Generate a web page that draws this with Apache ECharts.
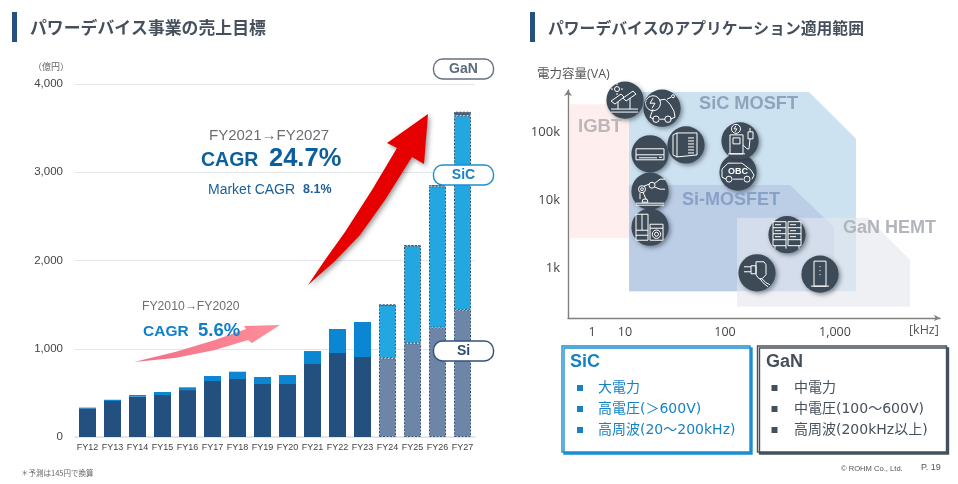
<!DOCTYPE html>
<html><head><meta charset="utf-8">
<style>html,body{margin:0;padding:0;background:#fff}#c{width:958px;height:484px}</style>
<script src="https://cdn.jsdelivr.net/npm/echarts@6/dist/echarts.min.js"></script>
</head><body><div id="c"></div>
<script>
const categories=['FY12','FY13','FY14','FY15','FY16','FY17','FY18','FY19','FY20','FY21','FY22','FY23','FY24','FY25','FY26','FY27'];
const siValues=[325,408,457,476,532,634,657,600,600,827,952,906,892,1062,1239,1440];
const sicValues=[8,14,19,34,31,57,83,80,102,147,272,397,604,1106,1601,2201];
const ganValues=[0,0,0,0,0,0,0,0,0,0,0,0,0,0,15,45];
const firstForecastIndex=12;
const yTickValues=[0,1000,2000,3000,4000];

// Right panel: x is a slide scale (one unit per kHz decade between 10 and 100), y is log10(VA)
const freqTickPositions=[0.67,1,2,3.1];
const freqTickLabels=['1','10','100','1,000'];
const vaTickPositions=[3,4,5];
const vaTickLabels=['1k','10k','100k'];
const regionNames=['IGBT','SiC MOSFT','Si-MOSFET','GaN HEMT'];
const regionFill=['#feefee','#cde2f1','#bccde6','rgba(228,231,237,0.62)'];
const regionIGBT=[[0.45,5.41],[1.04,5.41],[1.04,3.44],[0.45,3.44]];
const regionSiC=[[1.04,5.59],[2.84,5.59],[3.31,4.9],[3.31,2.66],[1.04,2.66]];
const regionSi=[[1.04,4.22],[2.65,4.22],[3.09,3.6],[3.09,2.66],[1.04,2.66]];
const regionGaN=[[2.12,3.74],[3.43,3.74],[3.85,3.12],[3.85,2.43],[2.12,2.43]];
const regions=[regionIGBT,regionSiC,regionSi,regionGaN];
const appNames=['OBC','EV','Inverter','AC','Solar','Robot','Appliance','Charger','Server','Adapter','Station'];
const appX=[2.13,1.37,1.61,1.25,1,1.25,1.25,2.15,2.62,2.32,2.95];
const appY=[4.41,5.35,4.81,4.68,5.47,4.13,3.6,4.87,3.49,2.93,2.91];

const JP='"Liberation Sans","Noto Sans CJK JP",sans-serif';
const JPR='"Noto Sans CJK JP",sans-serif';
const MEI='"DejaVu Sans","Noto Sans CJK JP",sans-serif';
const OS='"Open Sans","Noto Sans CJK JP",sans-serif';

// white line glyphs: p polyline, g closed polygon, c circle, r rectangle, relative to the circle centre
const glyphs={
 Solar:[['c',-8,-11,2.5],['p',-8,-17,-8,-15],['p',-8,-7,-8,-5],['p',-14,-11,-12,-11],['p',-4,-11,-2,-11],
  ['g',-14,1,-4,-6,-1,-3,-10,4],['g',-2,-2,8,-9,11,-6,1,1],['p',-7,2,-7,9],['p',5,-2,5,9],['p',-14,9,13,9],['p',-14,12,13,12]],
 EV:[['c',-9,-5,7.5],['p',-9,-10,-12,-5,-7,-5,-10,0],['p',-3,-8,3,-9,8,-4,12,3,13,9,8,11],['p',-2,11,3,11],['p',-9,1,-12,9,-8,11],['c',-6,11,3.2],['c',6,11,3.2],['p',5,-9,9,-11],['c',11,-12,1.5]],
 Inverter:[['g',-13,-10,-9,-12,11,-12,11,10,-9,12,-13,10],['p',-9,-12,-9,12],['p',2,-7,8,-7],['p',2,-4,8,-4],['p',2,-1,8,-1],['p',2,2,8,2],['p',2,5,8,5],['p',2,8,8,8]],
 AC:[['g',-14,-5,14,-5,14,6,-14,6],['p',-14,1,14,1],['p',-11,4,7,4],['p',9,3.5,12,3.5]],
 Robot:[['c',-8,-2,3.5],['c',-8,-2,1.4],['c',2,-6,3],['p',-6,-5,-1,-7],['p',-7,1,-4,8],['p',-10,2,-10,8],['p',5,-8,10,-12,15,-12],['p',5,-4,10,-2,15,-2],['g',-7,8,-3,8,-2,11,-8,11],['p',-14,12,14,12],['p',-14,14,14,14]],
 Appliance:[['r',-14,-13,12,26],['p',-8,-13,-8,3],['p',-14,3,-2,3],['p',-14,8,-2,8],['r',0,-3,13,16],['p',0,1,13,1],['c',6.5,7,4.2],['c',6.5,7,2]],
 Charger:[['c',-4,-12,4.5],['p',-4,-15,-6,-12,-3,-12,-5,-9],['g',-10,-6,3,-6,3,13,-10,13],['r',-7,-3,7,6],['p',-12,13,5,13],['p',3,4,7,8,9,8,10,-2],['g',8,-2,13,-2,13,-9,8,-9],['p',10,-13,10,-9]],
 OBC:[['p',-16,-3,-10,-9,4,-9,13,-2,16,3,14,7],['p',-16,-3,-16,5,-12,7],['p',-5,7,5,7],['c',-9,7,3],['c',9,7,3]],
 Server:[['r',-14,-13,13,24],['r',1,-13,13,24],['p',-14,-7,-1,-7],['p',-14,-1,-1,-1],['p',-14,5,-1,5],['p',1,-7,14,-7],['p',1,-1,14,-1],['p',1,5,14,5],['p',-12,-10,-6,-10],['p',3,-10,9,-10],['p',-12,-4,-6,-4],['p',3,-4,9,-4],['p',-12,2,-6,2],['p',3,2,9,2],['p',-12,11,-12,14],['p',12,11,12,14],['p',-1,11,-1,14]],
 Adapter:[['p',-1,-11,7,-11,9,-8,9,2,5,6,2,6,-1,2,-1,-11],['g',-6,-7,-1,-7,-1,1,-6,1],['p',-13,-6,-6,-6],['p',-13,-1,-6,-1],['p',3,6,6,10,11,14],['p',5,6,9,10,13,12]],
 Station:[['g',-6,-13,6,-13,6,12,-6,12],['p',-9,12,9,12],['p',0,-8,0,-7],['p',0,-4,0,-3],['p',0,0,0,1]]
};
function glyphChildren(name){
 const st={fill:'none',stroke:'#fff',lineWidth:1};
 const out=glyphs[name].map(g=>{
  const k=g[0];
  if(k==='c')return {type:'circle',shape:{cx:g[1],cy:g[2],r:g[3]},style:st};
  if(k==='r')return {type:'rect',shape:{x:g[1],y:g[2],width:g[3],height:g[4]},style:st};
  const pts=[];for(let i=1;i<g.length;i+=2)pts.push([g[i],g[i+1]]);
  return {type:k==='g'?'polygon':'polyline',shape:{points:pts},style:st};
 });
 if(name==='OBC')out.push({type:'text',style:{text:'OBC',x:0,y:-1,fill:'#fff',font:'bold 9px '+JP,textAlign:'center',textVerticalAlign:'middle'}});
 return out;
}

function T(text,x,y,font,fill,align,z){
 return {type:'text',z:z||20,style:{text,x,y,font,fill,textAlign:align||'left',textVerticalAlign:'middle'}};
}
function pill(label,y,color,txt){
 return [{type:'rect',z:30,shape:{x:433.5,y:y-10,width:60,height:20,r:9},style:{fill:'#fff',stroke:color,lineWidth:1.4}},
  T(label,463.5,y,'bold 14px '+JP,txt,'center',31)];
}
const F={
 arrowRed:[[308,285],[325,260],[345,232],[372,190],[397,148],[387,143],[428,114],[424,164],[412,157],[385,200],[360,235],[335,261]],
 arrowPink:[[134,362],[175,352],[215,340],[246,329],[244,326],[280,325],[252,343],[248,340],[215,350],[175,358]]
};
const graphics=[
 {type:'rect',z:20,shape:{x:12,y:12,width:5,height:30},style:{fill:'#25507f'}},
 T('パワーデバイス事業の売上目標',30,28,'bold 16.85px '+JPR,'#46505c'),
 {type:'rect',z:20,shape:{x:530,y:12,width:5,height:30},style:{fill:'#25507f'}},
 T('パワーデバイスのアプリケーション適用範囲',548,28,'bold 15.8px '+JPR,'#46505c'),
 T('（億円）',33,67,'9px '+JPR,'#666'),
 {type:'polygon',z:8,shape:{points:F.arrowPink},style:{fill:new echarts.graphic.LinearGradient(0,0,1,0,[{offset:0,color:'#ef6f86'},{offset:1,color:'#ff8e9a'}])}},
 {type:'polygon',z:8,shape:{points:F.arrowRed},style:{fill:'#e60000',shadowBlur:5,shadowOffsetX:2,shadowOffsetY:2,shadowColor:'rgba(0,0,0,0.4)'}},
 T('FY2021→FY2027',209,136,'15px '+JP,'#6d6e73'),
 T('CAGR',201,161,'bold 19.5px '+JP,'#0b5f9c'),
 T('24.7%',269,159,'bold 25.5px '+JP,'#0b5f9c'),
 T('Market CAGR',208,190,'14px '+JP,'#1b5f99'),
 T('8.1%',303,190,'bold 12.5px '+JP,'#1b5f99'),
 T('FY2010→FY2020',142,307,'12.2px '+JP,'#6d6e73'),
 T('CAGR',143,332,'bold 15.5px '+JP,'#0f7fca'),
 T('5.6%',198,331,'bold 18.5px '+JP,'#0f7fca'),
 ...pill('GaN',69,'#66727f','#5b6b7c'),
 ...pill('SiC',175,'#1a8fd2','#1682c6'),
 ...pill('Si',351,'#33507a','#2e4a72'),
 T('＊予測は145円で換算',21,473,'7.5px '+JPR,'#666'),
 T('電力容量(VA)',537,74,'12.5px '+OS,'#555'),
 T('[kHz]',909,330,'12.5px '+OS,'#555'),
 T('IGBT',578,127,'bold 18.5px '+JP,'#bdb6b8'),
 T('SiC MOSFT',699,104,'bold 18.2px '+JP,'#8da4bb'),
 T('Si-MOSFET',682,200,'bold 18px '+JP,'#88a1c6'),
 T('GaN HEMT',843,228,'bold 18px '+JP,'#b2b5bb'),
 {type:'rect',z:20,shape:{x:562,y:346,width:188,height:106},style:{fill:'#fff',stroke:'#1a8fd0',lineWidth:1.4,shadowColor:'#1a8fd0',shadowOffsetX:2,shadowOffsetY:2,shadowBlur:0}},
 {type:'rect',z:20,shape:{x:757.5,y:346,width:189,height:106},style:{fill:'#fff',stroke:'#46505c',lineWidth:1.4,shadowColor:'#46505c',shadowOffsetX:2,shadowOffsetY:2,shadowBlur:0}},
 T('SiC',570,362,'bold 18px '+JP,'#1682c6','left',21),
 T('GaN',766,362,'bold 18px '+JP,'#46505c','left',21),
 T('© ROHM Co., Ltd.',841,469,'7.6px '+JP,'#555'),
 T('P. 19',921,468,'9px '+JP,'#555')
];
[['大電力','高電圧(＞600V)','高周波(20～200kHz)'],['中電力','中電圧(100～600V)','高周波(200kHz以上)']].forEach((list,col)=>{
 const sx=col?771.5:577, tx=col?794:598, c=col?'#46505c':'#1682c6';
 list.forEach((s,i)=>{
  const y=388+i*21;
  graphics.push({type:'rect',z:21,shape:{x:sx,y:y-3,width:6,height:6},style:{fill:c}});
  graphics.push(T(s,tx,y,'14px '+MEI,c,'left',21));
 });
});

const chart=echarts.init(document.getElementById('c'),null,{renderer:'canvas'});
function barItem(v,i,fc,ac,border){
 const f=i>=firstForecastIndex;
 return {value:v,itemStyle:f?{color:fc,borderColor:border,borderWidth:1,borderType:[2,1.5]}:{color:ac}};
}
chart.setOption({
 animation:false,
 backgroundColor:'#fff',
 textStyle:{fontFamily:JP},
 grid:[{left:75,right:483,top:84,bottom:47},{left:568,right:18,top:90,bottom:166}],
 xAxis:[
  {type:'category',gridIndex:0,data:categories,axisTick:{show:false},
   axisLine:{lineStyle:{color:'#dfe3e8',width:1.5}},axisLabel:{interval:0,fontSize:9,color:'#444',margin:6,fontFamily:JP}},
  {type:'value',gridIndex:1,min:0.43,max:4.15,splitLine:{show:false},axisTick:{show:false},
   axisLine:{onZero:false,symbol:['none','arrow'],symbolSize:[5,6],lineStyle:{color:'#808080',width:1.4}},
   axisLabel:{customValues:freqTickPositions,fontSize:12.5,color:'#444',margin:8,fontFamily:OS,
    formatter:v=>freqTickLabels[freqTickPositions.indexOf(v)]??''}}
 ],
 yAxis:[
  {type:'value',gridIndex:0,min:0,max:4000,interval:1000,axisLine:{show:false},axisTick:{show:false},
   splitLine:{lineStyle:{color:'#e3e6ea',width:1.2}},
   axisLabel:{fontSize:11.5,color:'#444',margin:12,fontFamily:JP,
    formatter:v=>yTickValues.includes(v)?v.toLocaleString('en-US'):''}},
  {type:'value',gridIndex:1,min:2.265,max:5.618,splitLine:{show:false},axisTick:{show:false},
   axisLine:{onZero:false,symbol:['none','arrow'],symbolSize:[6,6],lineStyle:{color:'#808080',width:1.4}},
   axisLabel:{customValues:vaTickPositions,fontSize:13,color:'#444',margin:8,fontFamily:OS,
    formatter:v=>vaTickLabels[vaTickPositions.indexOf(v)]??''}}
 ],
 series:[
  {name:'Si',type:'bar',stack:'t',xAxisIndex:0,yAxisIndex:0,barWidth:17,data:siValues.map((v,i)=>barItem(v,i,'#6d86a8','#24507f','#3c5878'))},
  {name:'SiC',type:'bar',stack:'t',xAxisIndex:0,yAxisIndex:0,barWidth:17,data:sicValues.map((v,i)=>barItem(v,i,'#22a7e0','#0a86d2','#3c5878'))},
  {name:'GaN',type:'bar',stack:'t',xAxisIndex:0,yAxisIndex:0,barWidth:17,data:ganValues.map((v,i)=>barItem(v,i,'#4f5f74','#4f5f74','#3c5878'))},
  {name:'regions',type:'custom',xAxisIndex:1,yAxisIndex:1,z:1,silent:true,clip:false,
   data:regionNames.map((n,i)=>({name:n,value:[regions[i][0][0],regions[i][0][1],i]})),
   encode:{x:0,y:1},
   renderItem:(p,api)=>{const i=api.value(2);
    return {type:'polygon',shape:{points:regions[i].map(q=>api.coord(q))},style:{fill:regionFill[i]}};}},
  {name:'applications',type:'custom',xAxisIndex:1,yAxisIndex:1,z:5,silent:true,clip:false,
   data:appNames.map((n,i)=>({name:n,value:[appX[i],appY[i],i]})),
   encode:{x:0,y:1},
   renderItem:(p,api)=>{const c=api.coord([api.value(0),api.value(1)]);const n=appNames[api.value(2)];
    return {type:'group',x:c[0],y:c[1],children:[
     {type:'circle',shape:{cx:0,cy:0,r:18.6},style:{fill:'#3d4a57',shadowBlur:4,shadowOffsetX:2,shadowOffsetY:2,shadowColor:'rgba(40,50,60,0.5)'}},
     ...glyphChildren(n)]};}}
 ],
 graphic:{elements:graphics}
});
</script></body></html>
